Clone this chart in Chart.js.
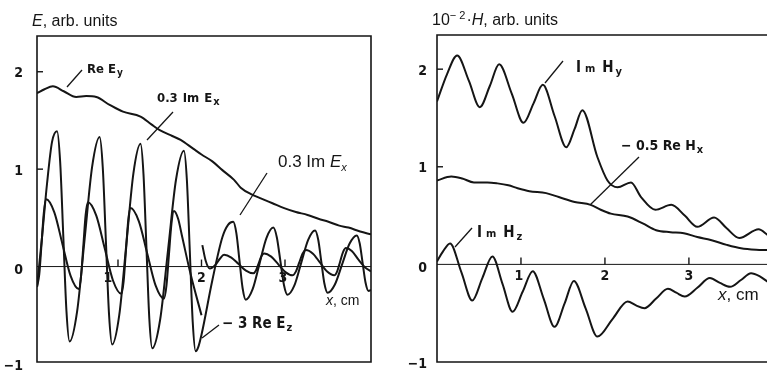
<!DOCTYPE html>
<html>
<head>
<meta charset="utf-8">
<script src="https://cdn.jsdelivr.net/npm/chart.js@4.4.0/dist/chart.umd.min.js"></script>
<style>
html, body { margin: 0; padding: 0; background: #fff; }
#wrap { position: relative; width: 767px; height: 370px; overflow: hidden; }
canvas { position: absolute; top: 0; }
#leftChart { left: 0; }
#rightChart { left: 385px; }
</style>
</head>
<body>
<div id="wrap">
  <canvas id="leftChart" width="385" height="370"></canvas>
  <canvas id="rightChart" width="382" height="370"></canvas>
</div>
<script>
// ---- left panel: E, arb. units ----
const reEyX = [0.03, 0.12, 0.22, 0.35, 0.5, 0.62, 0.74, 0.9, 1.06, 1.27, 1.4, 1.5, 1.65, 1.75, 1.9, 2.0, 2.13, 2.25, 2.39, 2.47, 2.6, 2.71, 2.85, 2.99, 3.13, 3.27, 3.4, 3.52, 3.65, 3.76, 3.9, 4.03];
const reEyY = [1.78, 1.82, 1.85, 1.8, 1.74, 1.75, 1.74, 1.66, 1.59, 1.54, 1.46, 1.4, 1.34, 1.3, 1.21, 1.15, 1.08, 0.99, 0.89, 0.81, 0.74, 0.7, 0.65, 0.6, 0.56, 0.53, 0.49, 0.46, 0.42, 0.4, 0.36, 0.33];

const imExX = [0.03, 0.09, 0.15, 0.21, 0.27, 0.3075, 0.345, 0.3825, 0.42, 0.51, 0.6, 0.69, 0.78, 0.8175, 0.855, 0.8925, 0.93,
    1.015, 1.1, 1.185, 1.27, 1.305, 1.34, 1.375, 1.41, 1.505, 1.6, 1.695, 1.79, 1.825, 1.86, 1.895, 1.93,
    1.96, 2.0, 2.13, 2.25, 2.32, 2.38, 2.4175, 2.455, 2.4925, 2.53, 2.6125, 2.695, 2.7775, 2.86, 2.9025, 2.945, 2.9875, 3.03,
    3.1125, 3.195, 3.2775, 3.36, 3.3975, 3.435, 3.4725, 3.51, 3.5975, 3.685, 3.7725, 3.86, 3.895, 3.93, 3.965, 4.0, 4.03];
const imExY = [-0.21, 0.3, 0.85, 1.28, 1.39, 1.074, 0.31, -0.454, -0.77, -0.463, 0.28, 1.023, 1.33, 1.019, 0.265, -0.489, -0.8,
    -0.499, 0.23, 0.959, 1.26, 0.953, 0.21, -0.533, -0.84, -0.544, 0.175, 0.894, 1.19, 0.889, 0.16, -0.569, -0.87,
    -0.83, -0.7, -0.14, 0.3, 0.43, 0.46, 0.343, 0.06, -0.223, -0.34, -0.232, 0.03, 0.292, 0.4, 0.299, 0.055, -0.189, -0.29,
    -0.194, 0.04, 0.274, 0.37, 0.277, 0.05, -0.177, -0.27, -0.184, 0.025, 0.234, 0.32, 0.237, 0.035, -0.167, -0.25, -0.24];

const reEzX = [0.03, 0.0575, 0.085, 0.1125, 0.14, 0.2375, 0.335, 0.4325, 0.53, 0.5575, 0.585, 0.6125, 0.64,
    0.74, 0.84, 0.94, 1.04, 1.0675, 1.095, 1.1225, 1.15, 1.25, 1.35, 1.45, 1.55, 1.58, 1.61, 1.64, 1.67,
    1.72, 1.77, 1.87, 2.0, 2.005,
    2.01, 2.05, 2.1, 2.17, 2.22, 2.27, 2.3575, 2.445, 2.5325, 2.62, 2.6525, 2.685, 2.7175, 2.75,
    2.835, 2.92, 3.005, 3.09, 3.13, 3.17, 3.21, 3.25, 3.335, 3.42, 3.505, 3.59, 3.625, 3.66, 3.695, 3.73,
    3.8, 3.88, 3.96, 4.03];
const reEzY = [-0.21, -0.079, 0.24, 0.559, 0.69, 0.556, 0.23, -0.096, -0.23, -0.1, 0.215, 0.53, 0.66,
    0.523, 0.19, -0.143, -0.28, -0.152, 0.16, 0.472, 0.6, 0.464, 0.135, -0.194, -0.33, -0.199, 0.12, 0.439, 0.57,
    0.49, 0.3, -0.08, -0.5, null,
    0.22, 0.06, -0.02, 0.02, 0.08, 0.12, 0.092, 0.025, -0.042, -0.07, -0.04, 0.033, 0.105, 0.135,
    0.102, 0.023, -0.057, -0.09, -0.052, 0.04, 0.132, 0.17, 0.132, 0.04, -0.052, -0.09, -0.049, 0.05, 0.149, 0.19,
    0.16, 0.07, -0.01, -0.05];

// ---- right panel: 10^-2 H, arb. units ----
const imHyX = [0, 0.12, 0.24, 0.38, 0.51, 0.63, 0.74, 0.89, 1.03, 1.15, 1.26, 1.4, 1.54, 1.64, 1.73, 1.91, 2.03, 2.15, 2.31, 2.43, 2.6, 2.79, 2.95, 3.1, 3.3, 3.45, 3.6, 3.83, 3.94];
const imHyY = [1.67, 1.95, 2.14, 1.88, 1.61, 1.83, 2.05, 1.75, 1.45, 1.65, 1.84, 1.52, 1.2, 1.39, 1.58, 1.1, 0.86, 0.79, 0.84, 0.69, 0.56, 0.61, 0.5, 0.385, 0.48, 0.37, 0.27, 0.36, 0.3];

const reHxX = [0, 0.17, 0.3, 0.44, 0.6, 0.72, 0.85, 0.96, 1.1, 1.3, 1.45, 1.64, 1.83, 1.95, 2.07, 2.27, 2.45, 2.61, 2.78, 2.94, 3.1, 3.26, 3.45, 3.62, 3.8, 3.94];
const reHxY = [0.86, 0.9, 0.88, 0.84, 0.84, 0.83, 0.81, 0.78, 0.75, 0.73, 0.69, 0.64, 0.61, 0.56, 0.52, 0.49, 0.42, 0.35, 0.33, 0.32, 0.28, 0.25, 0.2, 0.165, 0.15, 0.147];

const imHzX = [0, 0.07, 0.155, 0.29, 0.42, 0.54, 0.66, 0.78, 0.9, 1.02, 1.14, 1.27, 1.4, 1.52, 1.63, 1.77, 1.91, 2.09, 2.27, 2.37, 2.47, 2.61, 2.75, 2.85, 2.95, 3.1, 3.25, 3.37, 3.49, 3.62, 3.74, 3.84, 3.94];
const imHzY = [0.03, 0.13, 0.215, -0.08, -0.37, -0.14, 0.08, -0.2, -0.485, -0.28, -0.07, -0.35, -0.64, -0.4, -0.17, -0.45, -0.74, -0.56, -0.38, -0.42, -0.45, -0.35, -0.25, -0.29, -0.33, -0.24, -0.14, -0.19, -0.23, -0.16, -0.09, -0.12, -0.18];

const yTickVals = [2, 1, 0, -1];
const xTickVals = [1, 2, 3];

const INK = '#151515';
const numFont = 'bold 14px "DejaVu Sans Condensed", "Liberation Sans Narrow", "DejaVu Sans", sans-serif';
const lblFont = function(size) { return 'bold ' + size + 'px "DejaVu Sans Condensed", "Liberation Sans Narrow", "DejaVu Sans", sans-serif'; };
const arial = function(size, it) { return (it ? 'italic ' : '') + size + 'px "Liberation Sans", Arial, sans-serif'; };

function pts(xs, ys) {
    return xs.map(function(x, i) { return { x: x, y: ys[i] }; });
}

function curve(xs, ys) {
    return {
        data: pts(xs, ys),
        borderColor: INK,
        borderWidth: 2,
        pointRadius: 0,
        fill: false,
        spanGaps: false,
        cubicInterpolationMode: 'monotone'
    };
}

function drawRuns(ctx, x, y, runs) {
    ctx.textAlign = 'left';
    ctx.textBaseline = 'alphabetic';
    runs.forEach(function(r) {
        ctx.font = r.f;
        ctx.fillText(r.t, x, y + (r.dy || 0));
        x += ctx.measureText(r.t).width + (r.sp || 0);
    });
}

function leader(ctx, x1, y1, x2, y2) {
    ctx.beginPath();
    ctx.moveTo(x1, y1);
    ctx.lineTo(x2, y2);
    ctx.stroke();
}

// frame, zero line, ticks and tick labels
function drawAxes(chart, o) {
    const ctx = chart.ctx;
    const a = chart.chartArea;
    const xs = chart.scales.x, ys = chart.scales.y;
    ctx.save();
    ctx.strokeStyle = INK;
    ctx.fillStyle = INK;
    ctx.lineWidth = 1.6;
    ctx.beginPath();
    if (o.closed) {
        ctx.rect(a.left, a.top, a.right - a.left, a.bottom - a.top);
    } else {
        ctx.moveTo(a.right + 5, a.top);
        ctx.lineTo(a.left, a.top);
        ctx.lineTo(a.left, a.bottom);
        ctx.lineTo(a.right + 5, a.bottom);
    }
    ctx.stroke();

    const y0 = ys.getPixelForValue(0);
    ctx.lineWidth = 1;
    leader(ctx, a.left, y0, a.right, y0);

    ctx.lineWidth = 1.4;
    [2, 1].forEach(function(v) {
        const py = ys.getPixelForValue(v);
        leader(ctx, a.left, py, a.left + 6, py);
    });
    xTickVals.forEach(function(v) {
        const px = xs.getPixelForValue(v);
        leader(ctx, px, y0, px, y0 - 7);
    });

    ctx.font = numFont;
    ctx.textAlign = 'right';
    ctx.textBaseline = 'middle';
    yTickVals.forEach(function(v) {
        const py = Math.min(ys.getPixelForValue(v), 366) + (v === 0 ? 4 : 2);
        ctx.fillText(v < 0 ? '\u2212' + Math.abs(v) : String(v), o.yLabelX, py);
    });
    ctx.textAlign = 'center';
    xTickVals.forEach(function(v, i) {
        ctx.fillText(String(v), xs.getPixelForValue(v) + o.xLabelDx[i], y0 + 12);
    });
    ctx.restore();
}

const leftDecor = {
    id: 'leftDecor',
    afterDraw: function(chart) {
        const ctx = chart.ctx;
        drawAxes(chart, { closed: true, yLabelX: 23, xLabelDx: [-10, 0, -2] });
        ctx.save();
        ctx.fillStyle = INK;
        ctx.strokeStyle = INK;
        ctx.lineWidth = 1.3;
        drawRuns(ctx, 32, 26, [{ t: 'E', f: arial(16, true) }, { t: ', arb. units', f: arial(16) }]);
        drawRuns(ctx, 87, 73, [{ t: 'Re E', f: lblFont(13), sp: 1 }, { t: 'y', f: lblFont(10), dy: 3 }]);
        leader(ctx, 82, 70, 67, 87);
        drawRuns(ctx, 157, 102, [{ t: '0.3', f: lblFont(13), sp: 5 }, { t: 'Im', f: lblFont(13), sp: 5 }, { t: 'E', f: lblFont(13), sp: 1 }, { t: 'x', f: lblFont(11), dy: 3 }]);
        leader(ctx, 173, 112, 147, 140);
        drawRuns(ctx, 278, 167, [{ t: '0.3 Im ', f: arial(17) }, { t: 'E', f: arial(17, true) }, { t: 'x', f: arial(11, true), dy: 4 }]);
        leader(ctx, 267, 173, 240, 215);
        drawRuns(ctx, 222, 328, [{ t: '\u2212 3 Re E', f: lblFont(15), sp: 1 }, { t: 'z', f: lblFont(11), dy: 3 }]);
        leader(ctx, 219, 325, 202, 338);
        drawRuns(ctx, 326, 305, [{ t: 'x', f: arial(14, true) }, { t: ', cm', f: arial(14) }]);
        ctx.restore();
    }
};

const rightDecor = {
    id: 'rightDecor',
    afterDraw: function(chart) {
        const ctx = chart.ctx;
        drawAxes(chart, { closed: false, yLabelX: 42, xLabelDx: [-2, 0, 0] });
        ctx.save();
        ctx.fillStyle = INK;
        ctx.strokeStyle = INK;
        ctx.lineWidth = 1.3;
        drawRuns(ctx, 47, 25, [
            { t: '10', f: arial(16) },
            { t: '\u2212 2', f: arial(11), dy: -6, sp: 1 },
            { t: '\u00b7', f: arial(16) },
            { t: 'H', f: arial(16, true) },
            { t: ', arb. units', f: arial(16) }
        ]);
        drawRuns(ctx, 191, 72, [{ t: 'I', f: lblFont(15), sp: 4 }, { t: 'm', f: lblFont(11), sp: 7 }, { t: 'H', f: lblFont(15), sp: 2 }, { t: 'y', f: lblFont(11), dy: 3 }]);
        leader(ctx, 178, 61, 160, 83);
        drawRuns(ctx, 236, 150, [{ t: '\u2212 0.5 Re H', f: lblFont(14), sp: 1 }, { t: 'x', f: lblFont(11), dy: 3 }]);
        leader(ctx, 254, 157, 205, 205);
        drawRuns(ctx, 92, 237, [{ t: 'I', f: lblFont(15), sp: 4 }, { t: 'm', f: lblFont(11), sp: 7 }, { t: 'H', f: lblFont(15), sp: 2 }, { t: 'z', f: lblFont(11), dy: 3 }]);
        leader(ctx, 87, 228, 70, 247);
        drawRuns(ctx, 333, 300, [{ t: 'x', f: arial(17, true) }, { t: ', cm', f: arial(17) }]);
        ctx.restore();
    }
};

function baseOptions(xMin, xMax, yMin, yMax, pad) {
    return {
        responsive: false,
        animation: false,
        events: [],
        layout: { padding: pad },
        plugins: { legend: { display: false }, tooltip: { enabled: false } },
        scales: {
            x: { type: 'linear', min: xMin, max: xMax, display: false },
            y: { type: 'linear', min: yMin, max: yMax, display: false }
        }
    };
}

new Chart(document.getElementById('leftChart'), {
    type: 'line',
    data: { datasets: [curve(reEyX, reEyY), curve(imExX, imExY), curve(reEzX, reEzY)] },
    options: baseOptions(0.03, 4.03, -0.98, 2.367, { left: 37, right: 14, top: 36, bottom: 8 }),
    plugins: [leftDecor]
});

new Chart(document.getElementById('rightChart'), {
    type: 'line',
    data: { datasets: [curve(imHyX, imHyY), curve(reHxX, reHxY), curve(imHzX, imHzY)] },
    options: baseOptions(0, 3.93, -1.0, 2.35, { left: 52, right: 0, top: 35, bottom: 8 }),
    plugins: [rightDecor]
});
</script>
</body>
</html>
